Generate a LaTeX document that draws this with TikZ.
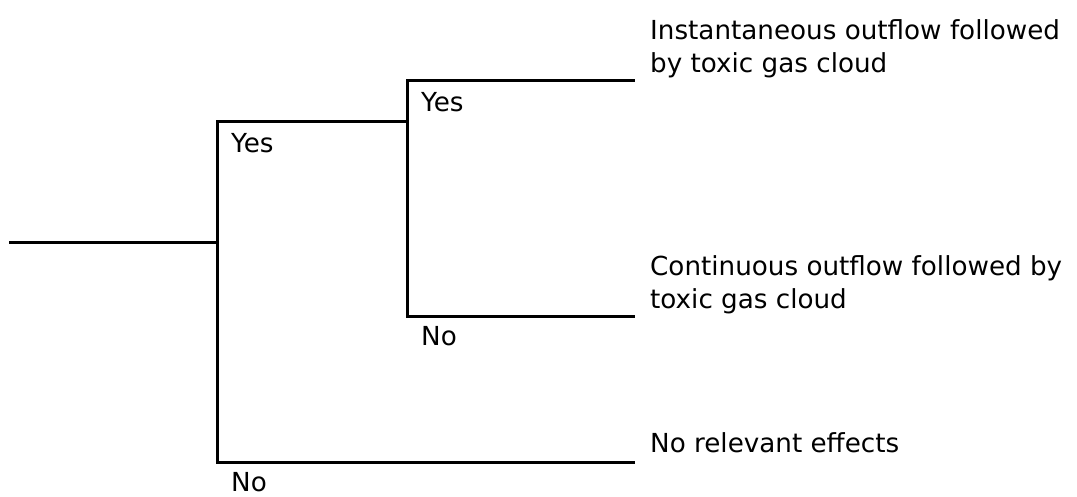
\documentclass[tikz,border=0pt]{standalone}
\usepackage{fontspec}
\setmainfont{DejaVu Sans}
\begin{document}
\begin{tikzpicture}[x=1pt,y=-1pt,
  branch/.style={line width=3pt, line cap=rect},
  lbl/.style={inner sep=0pt, anchor=base west, font=\fontsize{26.2}{32.5}\selectfont},
  outc/.style={lbl, align=left}]
\useasboundingbox (0,0) rectangle (1077,496);
\coordinate (start) at (10,242);
\coordinate (j1) at (217,242);
\coordinate (j1t) at (217,121);
\coordinate (j1b) at (217,462);
\coordinate (j2t) at (407,80);
\coordinate (j2b) at (407,316);
\coordinate (j2m) at (407,121);
\coordinate (e1) at (633,80);
\coordinate (e2) at (633,316);
\coordinate (e3) at (633,462);
\draw[branch] (start) -- (j1);
\draw[branch] (e3) -- (j1b) -- (j1t) -- (j2m);
\draw[branch] (e1) -- (j2t) -- (j2b) -- (e2);
\node[lbl] (yes1) at (231,152) {Yes};
\node[lbl] (no1) at (231,491) {No};
\node[lbl] (yes2) at (421,111) {Yes};
\node[lbl] (no2) at (421,345) {No};
\node[outc] (o1) at (650,72) {Instantaneous outflow followed\\by toxic gas cloud};
\node[outc] (o2) at (650,308) {Continuous outflow followed by\\toxic gas cloud};
\node[lbl] (o3) at (650,452) {No relevant effects};
\end{tikzpicture}
\end{document}
